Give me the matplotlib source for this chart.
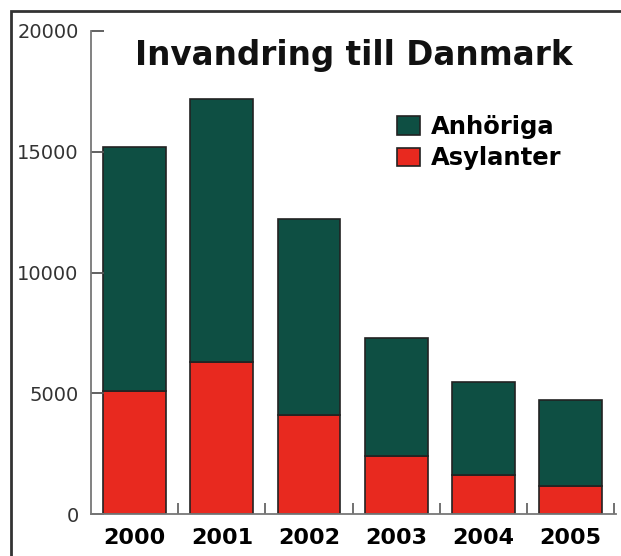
import matplotlib
matplotlib.use("Agg")
import matplotlib.pyplot as plt
from matplotlib.patches import Rectangle
import numpy as np

# values
years = ["2000", "2001", "2002", "2003", "2004", "2005"]
asylanter = [5100, 6300, 4100, 2400, 1600, 1150]
totals = [15200, 17200, 12200, 7300, 5450, 4700]
anhoriga = [t - a for t, a in zip(totals, asylanter)]
yticks = [0, 5000, 10000, 15000, 20000]

GREEN = "#0e4f43"
RED = "#e8291f"
EDGE = "#222222"

fig = plt.figure(figsize=(6.21, 5.56), dpi=100)
ax = fig.add_axes([91 / 621, 1 - 514 / 556, 525 / 621, 483 / 556])

x = np.arange(len(years))
ax.bar(x, asylanter, width=0.72, color=RED, edgecolor=EDGE, linewidth=1.2, label="Asylanter")
ax.bar(x, anhoriga, width=0.72, bottom=asylanter, color=GREEN, edgecolor=EDGE,
       linewidth=1.2, label="Anhöriga")

ax.set_xlim(-0.5, 5.52)
ax.set_ylim(0, 20000)
ax.set_yticks(yticks)
ax.set_yticklabels([str(v) for v in yticks])
ax.set_xticks(x)
ax.set_xticklabels(years)
ax.set_xticks(x + 0.5, minor=True)

for s in ["top", "right"]:
    ax.spines[s].set_visible(False)
for s in ["left", "bottom"]:
    ax.spines[s].set_color("#777777")
    ax.spines[s].set_linewidth(1.3)

ax.tick_params(axis="y", direction="in", length=9, width=1.3, color="#555555",
               pad=9, labelsize=14, labelcolor="#333333")
ax.tick_params(axis="x", which="major", length=0, pad=10, labelsize=16)
ax.tick_params(axis="x", which="minor", direction="in", length=8, width=1.3, color="#666666")
for lbl in ax.get_xticklabels():
    lbl.set_fontweight("bold")

handles, labels = ax.get_legend_handles_labels()
leg = ax.legend(handles[::-1], labels[::-1], loc="upper left",
                bbox_to_anchor=((397 - 91) / 525, (514 - 115) / 483),
                frameon=False, borderpad=0, borderaxespad=0,
                handlelength=0.95, handleheight=0.8, handletextpad=0.45,
                labelspacing=0.3, prop={"weight": "bold", "size": 17.5})

fig.text(354 / 621, 1 - 65 / 556, "Invandring till Danmark", ha="center", va="baseline",
         fontsize=23.5, fontweight="bold", color="#111111")

# outer frame (only top and left edges visible in the picture)
fig.patches.append(Rectangle((11 / 621, -0.2), 1.2, 1 - 11 / 556 + 0.2,
                             transform=fig.transFigure, fill=False,
                             edgecolor="#333333", linewidth=2))

fig.savefig("out.png", dpi=100)
